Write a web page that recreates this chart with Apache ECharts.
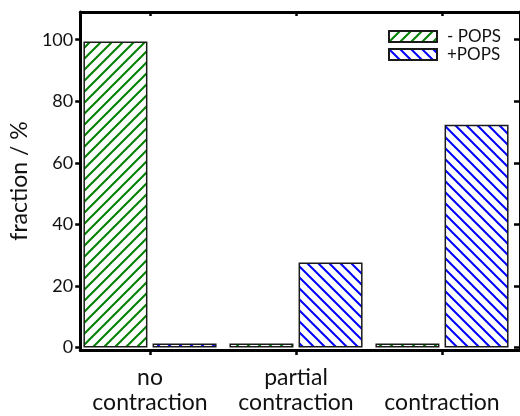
<!DOCTYPE html>
<html>
<head>
<meta charset="utf-8">
<script src="https://cdn.jsdelivr.net/npm/echarts@6/dist/echarts.min.js"></script>
<style>
html, body { margin: 0; padding: 0; background: #fff; }
#canvas_main { width: 520px; height: 416px; }
</style>
</head>
<body>
<div id="canvas_main"></div>
<script>
var categories = ['no\ncontraction', 'partial\ncontraction', '\ncontraction'];
var seriesNames = ['- POPS', '+POPS'];
var minusPops = [99.4, 1.3, 1.3];
var plusPops = [1.3, 27.6, 72.4];
var yTicks = [0, 20, 40, 60, 80, 100];

var FONT = 'Lato';

// hatch fill tiles
function hatch(color, dir) {
	var s = 11;
	var c = document.createElement('canvas');
	c.width = s; c.height = s;
	var ctx = c.getContext('2d');
	ctx.fillStyle = '#fff';
	ctx.fillRect(0, 0, s, s);
	ctx.strokeStyle = color;
	ctx.lineWidth = 2;
	ctx.beginPath();
	if (dir > 0) {
		ctx.moveTo(-1, s + 1); ctx.lineTo(s + 1, -1);
		ctx.moveTo(-2, 2); ctx.lineTo(2, -2);
		ctx.moveTo(s - 2, s + 2); ctx.lineTo(s + 2, s - 2);
	} else {
		ctx.moveTo(-1, -1); ctx.lineTo(s + 1, s + 1);
		ctx.moveTo(s - 2, -2); ctx.lineTo(s + 2, 2);
		ctx.moveTo(-2, s - 2); ctx.lineTo(2, s + 2);
	}
	ctx.stroke();
	return { image: c, repeat: 'repeat' };
}

var frameLine = { show: true, onZero: false, lineStyle: { color: '#000', width: 3 } };
var tickStyle = { color: '#000', width: 2.5 };

var myChart = echarts.init(document.getElementById('canvas_main'));
var option = {
	animation: false,
	textStyle: { fontFamily: FONT, color: '#111' },
	grid: [
		{ left: 77, right: 5, top: 12, bottom: 68.5 },
		{ left: 70, right: -3, top: 12, bottom: 66 }
	],
	legend: {
		data: seriesNames,
		orient: 'vertical',
		left: 383, top: 23,
		itemWidth: 48, itemHeight: 11, itemGap: 1,
		icon: 'rect',
		textStyle: { fontFamily: FONT, fontSize: 17, color: '#111', padding: [0, 0, 0, 5] }
	},
	xAxis: [
		{
			type: 'category', gridIndex: 0, data: categories, position: 'bottom', offset: 2.5,
			axisLine: { show: false, onZero: false },
			axisTick: { show: true, alignWithLabel: true, inside: false, length: 5, lineStyle: tickStyle },
			axisLabel: { interval: 0, fontFamily: FONT, fontSize: 23, color: '#111', margin: 15, lineHeight: 25 }
		},
		{
			type: 'category', gridIndex: 0, data: categories, position: 'top',
			axisLine: { show: false, onZero: false },
			axisTick: { show: true, alignWithLabel: true, inside: true, length: 4, lineStyle: tickStyle },
			axisLabel: { show: false }
		},
		{
			type: 'value', gridIndex: 1, position: 'bottom', min: 0, max: 1,
			axisLine: frameLine,
			axisTick: { show: false }, axisLabel: { show: false }, splitLine: { show: false }
		},
		{
			type: 'value', gridIndex: 1, position: 'top', min: 0, max: 1,
			axisLine: frameLine,
			axisTick: { show: false }, axisLabel: { show: false }, splitLine: { show: false }
		}
	],
	yAxis: [
		{ type: 'value', gridIndex: 0, min: 0, max: 109, show: false },
		{
			type: 'value', gridIndex: 1, position: 'left', min: -0.8, max: 109,
			name: 'fraction / %', nameLocation: 'middle', nameGap: 48,
			nameTextStyle: { fontFamily: FONT, fontSize: 23, color: '#111' },
			axisLine: frameLine,
			axisTick: { show: true, inside: false, length: 5, customValues: yTicks, lineStyle: tickStyle },
			axisLabel: { show: true, customValues: yTicks, fontFamily: FONT, fontSize: 18, color: '#111', margin: 7 },
			splitLine: { show: false }
		},
		{
			type: 'value', gridIndex: 1, position: 'right', min: -0.8, max: 109,
			axisLine: frameLine,
			axisTick: { show: true, inside: true, length: 6, customValues: yTicks, lineStyle: tickStyle },
			axisLabel: { show: false },
			splitLine: { show: false }
		}
	],
	series: [
		{
			name: seriesNames[0], type: 'bar', xAxisIndex: 0, yAxisIndex: 0,
			data: minusPops, barWidth: 64, barGap: '8%',
			itemStyle: { color: hatch('#008000', 1), borderColor: '#1a1a1a', borderWidth: 1.5 }
		},
		{
			name: seriesNames[1], type: 'bar', xAxisIndex: 0, yAxisIndex: 0,
			data: plusPops, barWidth: 64, barGap: '8%',
			itemStyle: { color: hatch('#0000ff', -1), borderColor: '#1a1a1a', borderWidth: 1.5 }
		}
	]
};
myChart.setOption(option);
</script>
</body>
</html>
